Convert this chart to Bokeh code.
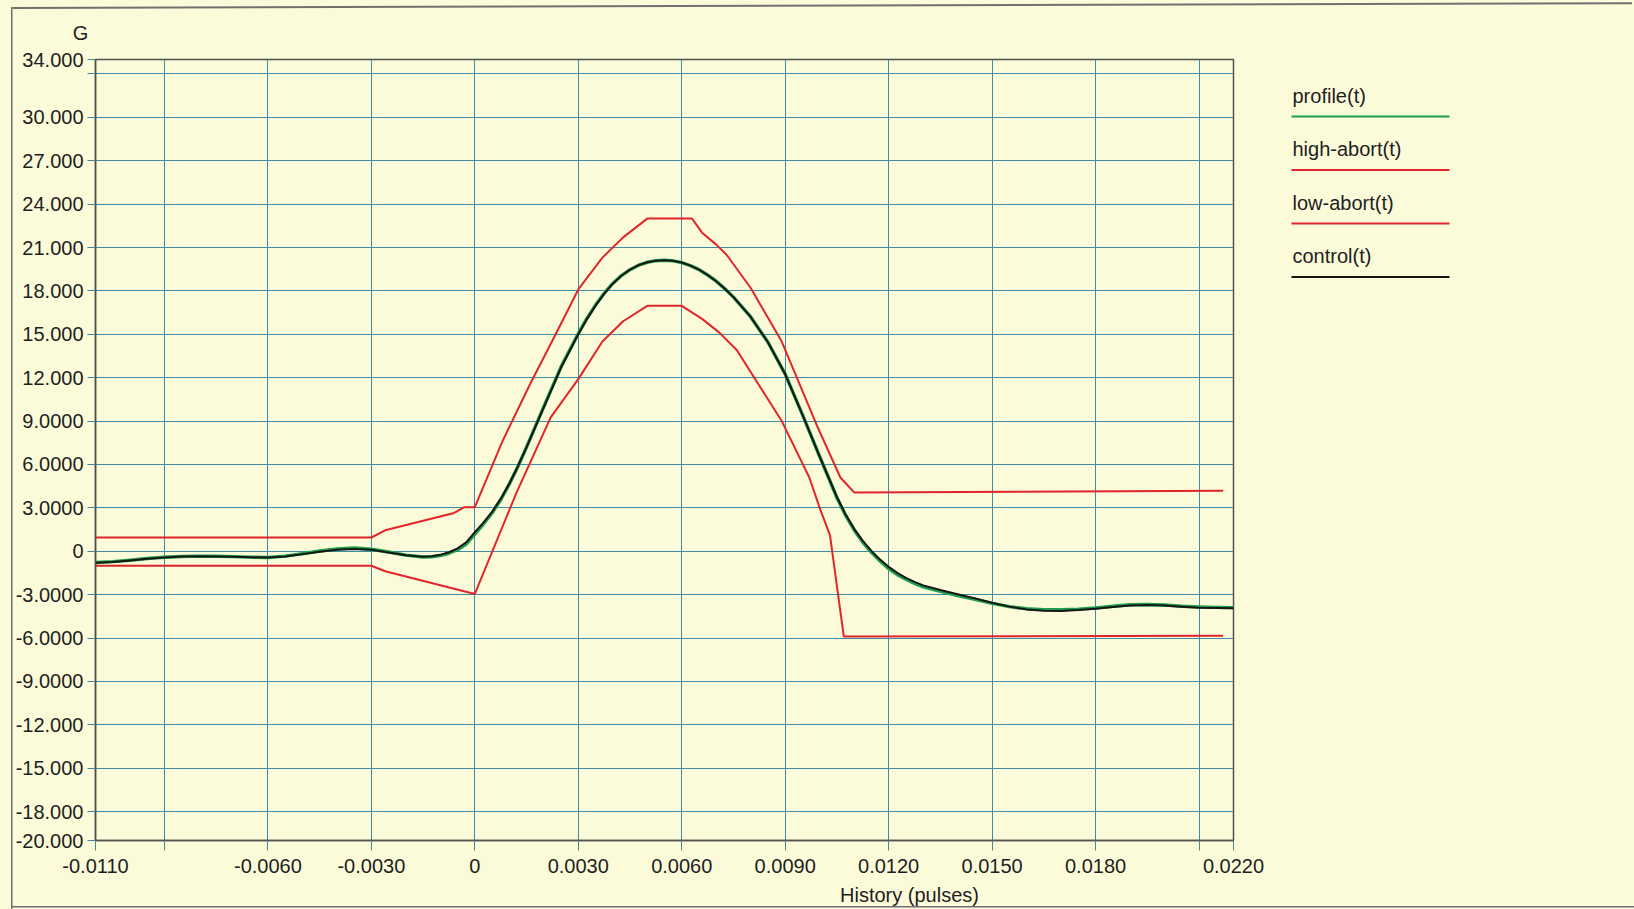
from bokeh.plotting import figure
from bokeh.models import FixedTicker, Range1d, GlobalInlineStyleSheet
from bokeh.layouts import column, row
from bokeh.core.properties import value
from bokeh.embed import file_html
from bokeh.resources import INLINE

# ---------------- data ----------------
t_ctrl = [-0.0110, -0.0105, -0.0100, -0.0095, -0.0090, -0.0085, -0.0080, -0.0075, -0.0070,
          -0.0065, -0.0060, -0.0055, -0.0050, -0.0045, -0.0040, -0.0035, -0.0030, -0.0025,
          -0.0020, -0.0015,
          -0.00125, -0.0010, -0.00075, -0.0005, -0.00025, 0.0000, 0.00025, 0.0005, 0.00075,
          0.0010, 0.00125, 0.0015,
          0.0020, 0.0025, 0.0030,
          0.00325, 0.0035, 0.00375, 0.0040, 0.00425, 0.0045, 0.00475, 0.0050, 0.00525,
          0.0055, 0.00575, 0.0060, 0.00625, 0.0065, 0.00675, 0.0070, 0.00725, 0.0075,
          0.0080, 0.0085, 0.0090, 0.0095, 0.0100, 0.0105,
          0.01075, 0.0110, 0.01125, 0.0115, 0.01175, 0.0120, 0.01225, 0.0125, 0.01275, 0.0130,
          0.0135, 0.0140, 0.0145, 0.0150, 0.0155, 0.0160, 0.0165, 0.0170, 0.0175,
          0.0180, 0.0185, 0.0190, 0.0195, 0.0200, 0.0205, 0.0210, 0.0215, 0.0220]
control = [-0.80, -0.74, -0.64, -0.52, -0.43, -0.37, -0.35, -0.36, -0.38,
           -0.42, -0.44, -0.36, -0.20, -0.03, 0.10, 0.16, 0.10, -0.08,
           -0.28, -0.38,
           -0.35, -0.25, -0.07, 0.20, 0.62, 1.32, 1.98, 2.72, 3.62,
           4.68, 5.88, 7.20,
           9.95, 12.70, 15.00,
           16.05, 16.98, 17.80, 18.50, 19.05, 19.47, 19.78, 19.98, 20.09,
           20.12, 20.08, 19.96, 19.75, 19.47, 19.10, 18.67, 18.15, 17.57,
           16.20, 14.45, 12.25, 9.45, 6.55, 3.75,
           2.55, 1.55, 0.72, 0.02, -0.57, -1.08, -1.50, -1.84, -2.12, -2.36,
           -2.68, -2.97, -3.26, -3.56, -3.83, -4.02, -4.12, -4.13, -4.07,
           -3.97, -3.85, -3.75, -3.72, -3.76, -3.84, -3.90, -3.93, -3.95]
t_prof = t_ctrl
profile = [-0.78, -0.72, -0.62, -0.50, -0.42, -0.36, -0.34, -0.35, -0.37,
           -0.41, -0.43, -0.34, -0.17, 0.02, 0.16, 0.22, 0.14, -0.05,
           -0.27, -0.40,
           -0.38, -0.30, -0.14, 0.10, 0.50, 1.18, 1.88, 2.64, 3.56,
           4.64, 5.86, 7.20,
           10.00, 12.75, 15.05,
           16.10, 17.02, 17.83, 18.52, 19.06, 19.47, 19.78, 19.98, 20.09,
           20.12, 20.08, 19.96, 19.75, 19.47, 19.10, 18.67, 18.15, 17.57,
           16.20, 14.45, 12.25, 9.45, 6.55, 3.70,
           2.48, 1.47, 0.62, -0.08, -0.68, -1.20, -1.62, -1.94, -2.22, -2.46,
           -2.78, -3.07, -3.32, -3.60, -3.83, -3.98, -4.04, -4.04, -4.00,
           -3.92, -3.80, -3.70, -3.68, -3.72, -3.80, -3.85, -3.88, -3.90]
t_high = [-0.0110, -0.0030, -0.0026, -0.0006, -0.0003, 0.0000, 0.0008, 0.0016, 0.0023,
          0.0030, 0.0037, 0.0043, 0.0050, 0.0063, 0.0066, 0.0070, 0.0073, 0.0080, 0.0089,
          0.0099, 0.0106, 0.0110, 0.0217]
high_abort = [0.95, 0.95, 1.45, 2.65, 3.05, 3.05, 7.60, 11.55, 14.80,
              18.10, 20.30, 21.70, 23.00, 23.00, 22.00, 21.20, 20.50, 18.20, 14.50,
              8.80, 5.10, 4.07, 4.18]
t_low = [-0.0110, -0.0030, -0.0026, 0.0000, 0.0012, 0.0022, 0.0030, 0.0037, 0.0043,
         0.0050, 0.0060, 0.0066, 0.0071, 0.0076, 0.0089, 0.0097, 0.0100, 0.0103, 0.0107,
         0.0217]
low_abort = [-1.00, -1.00, -1.38, -2.95, 4.00, 9.25, 11.90, 14.50, 15.90,
             16.97, 16.97, 16.05, 15.10, 13.90, 9.00, 5.10, 3.00, 1.10, -5.90,
             -5.85]

x_ticks = [-0.011, -0.009, -0.006, -0.003, 0.0, 0.003, 0.006, 0.009, 0.012, 0.015, 0.018, 0.021, 0.022]
x_tick_labels = ["-0.0110", "", "-0.0060", "-0.0030", "0", "0.0030", "0.0060", "0.0090",
                 "0.0120", "0.0150", "0.0180", "", "0.0220"]
y_ticks = [-20, -18, -15, -12, -9, -6, -3, 0, 3, 6, 9, 12, 15, 18, 21, 24, 27, 30, 33, 34]
y_tick_labels = ["-20.000", "-18.000", "-15.000", "-12.000", "-9.0000", "-6.0000", "-3.0000",
                 "0", "3.0000", "6.0000", "9.0000", "12.000", "15.000", "18.000", "21.000",
                 "24.000", "27.000", "30.000", "", "34.000"]
series_names = ["profile(t)", "high-abort(t)", "low-abort(t)", "control(t)"]
x_title = "History (pulses)"
y_title = "G"

# ---------------- style ----------------
BG = "#FBFBDA"
GRID = "#3E8CA6"
RED = "#E0262A"
GREEN = "#1E9E4A"
BLACK = "#161616"
TXT = "#1E1E1E"
EDGE = "#707070"
FONT = "Liberation Sans"
series_colors = [GREEN, RED, RED, BLACK]

PAGE_W = 1632
TOP_H = 45          # strip above the chart (border + "G")
MID_H = 838         # chart row
BOT_H = 24          # strip below (x title)
MAIN_W = 1274
LEG_W = PAGE_W - MAIN_W
FL, FT, FW, FH = 95, 14, 1138, 781
FB = MID_H - FT - FH


def strip(w, h, top=0, bottom=0):
    f = figure(width=w, height=h, x_range=Range1d(0, w), y_range=Range1d(h - bottom, top),
               x_axis_type=None, y_axis_type=None, toolbar_location=None,
               output_backend="svg", min_border=0, min_border_top=top, min_border_bottom=bottom,
               outline_line_color=None,
               background_fill_color=BG, background_fill_alpha=0,
               border_fill_color=BG, border_fill_alpha=0)
    return f


# top strip: outer border (slightly tilted scan) + y title
top = strip(PAGE_W, TOP_H)
top.line([12, PAGE_W], [7.5, 2.7], line_color=EDGE, line_width=2)
top.text(x=[80], y=[32], text=[y_title], text_font=value(FONT), text_font_size=value("20px"),
         text_color=TXT, text_align="center", text_baseline="middle")

# main chart
p = figure(width=MAIN_W, height=MID_H, x_range=Range1d(-0.011, 0.022), y_range=Range1d(-20, 34),
           output_backend="svg", toolbar_location=None, title=None,
           min_border_left=FL, min_border_right=MAIN_W - FL - FW,
           min_border_top=FT, min_border_bottom=FB,
           background_fill_color=BG, border_fill_color=BG, border_fill_alpha=0,
           outline_line_color="#505050", outline_line_width=1.5)

p.xaxis.ticker = FixedTicker(ticks=x_ticks)
p.xaxis.major_label_overrides = dict(zip(x_ticks, x_tick_labels))
p.yaxis.ticker = FixedTicker(ticks=y_ticks)
p.yaxis.major_label_overrides = dict(zip(y_ticks, y_tick_labels))
for ax in (p.xaxis, p.yaxis):
    ax.minor_tick_line_color = None
    ax.major_tick_in = 0
    ax.major_tick_line_color = "#4A8498"
    ax.axis_line_color = "#505050"
    ax.axis_line_width = 1.5
    ax.major_label_text_font = FONT
    ax.major_label_text_font_size = "20px"
    ax.major_label_text_color = TXT
p.xaxis.major_tick_out = 10
p.xaxis.major_label_standoff = 8
p.yaxis.major_tick_out = 8
p.yaxis.major_label_standoff = 4

p.xgrid.ticker = FixedTicker(ticks=x_ticks)
p.ygrid.ticker = FixedTicker(ticks=y_ticks)
for g in (p.xgrid, p.ygrid):
    g.grid_line_color = GRID
    g.grid_line_width = 1

p.line(t_prof, profile, line_color=GREEN, line_width=3.4, line_join="round")
p.line(t_high, high_abort, line_color=RED, line_width=2)
p.line(t_low, low_abort, line_color=RED, line_width=2)
p.line(t_ctrl, control, line_color=BLACK, line_width=2, line_join="round")

# legend panel: label above a line sample (y in px from the top of the chart row)
leg = strip(LEG_W, MID_H, top=FT, bottom=FB)
text_y = [50 + i * 53.5 for i in range(len(series_names))]
line_y = [71 + i * 53.5 for i in range(len(series_names))]
leg.text(x=[18] * len(series_names), y=text_y, text=series_names, text_font=value(FONT),
         text_font_size=value("20px"), text_color=TXT, text_align="left", text_baseline="middle")
leg.segment(x0=[17] * 4, y0=line_y, x1=[175] * 4, y1=line_y, line_color=series_colors, line_width=2)

# bottom strip: x title
bot = strip(PAGE_W, BOT_H)
bot.text(x=[909], y=[11], text=[x_title], text_font=value(FONT), text_font_size=value("20px"),
         text_color=TXT, text_align="center", text_baseline="middle")

layout = column(top, row(p, leg, spacing=0), bot, spacing=0)
css = ("body{background:"
       "linear-gradient(%s,%s) 11px 7px/1.5px 100%% no-repeat,"
       "linear-gradient(%s,%s) 11px 906px/100%% 1.5px no-repeat,"
       "%s;}" % (EDGE, EDGE, EDGE, EDGE, BG))
layout.stylesheets = [GlobalInlineStyleSheet(css=css)]

open("out.html", "w").write(file_html(layout, INLINE))
